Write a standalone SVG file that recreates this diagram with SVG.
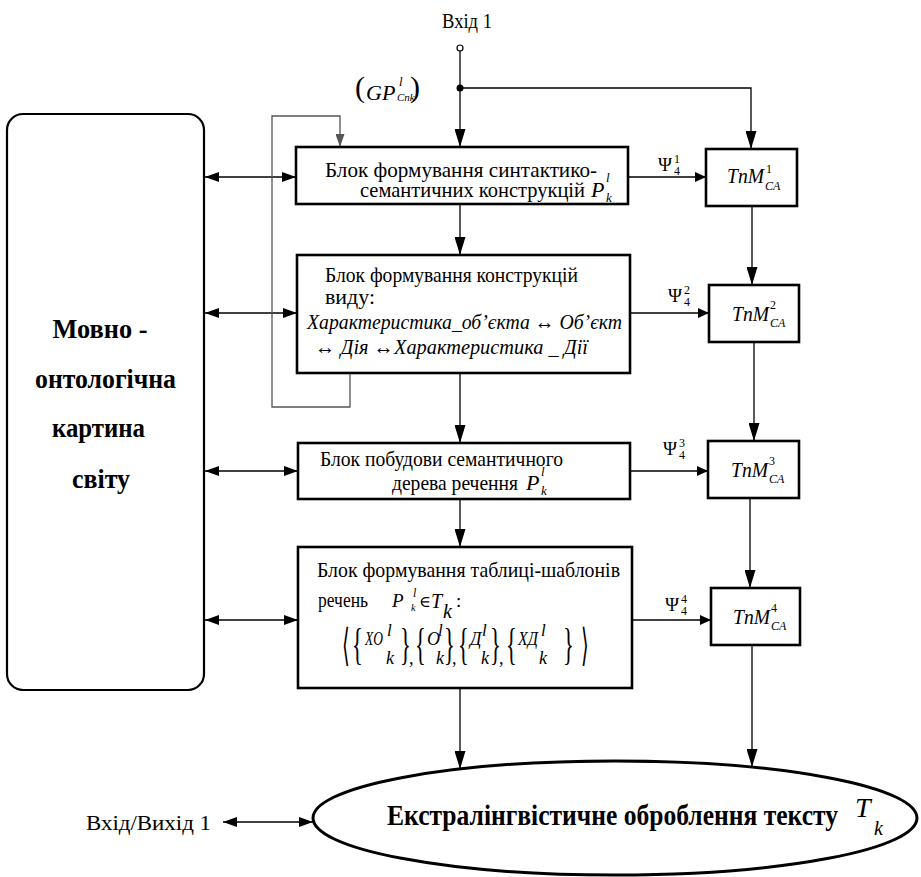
<svg xmlns="http://www.w3.org/2000/svg" width="921" height="877" viewBox="0 0 921 877">
<defs>
<style>
text{font-family:'Liberation Serif','DejaVu Serif','Times New Roman',serif;fill:#000}
.i{font-style:italic}
.b{font-weight:bold}
.s10{font-size:10px}.s11{font-size:11px}.s12{font-size:12px}.s13{font-size:13px}.s16{font-size:16px}
.s17{font-size:17px}.s18{font-size:18px}.s19{font-size:19px}.s20{font-size:20px}.s21{font-size:21px}
.s22{font-size:22px}.s27{font-size:27px}.s28{font-size:28px}.s30{font-size:30px}.s45{font-size:45px}
.ang{font-family:'DejaVu Sans',sans-serif;font-size:44px}
.box{fill:#fff;stroke:#000;stroke-width:2.6}
.ln{fill:none;stroke:#000;stroke-width:1.3}
.fb{fill:none;stroke:#555;stroke-width:1.3}
</style>
<marker id="av" markerUnits="userSpaceOnUse" markerWidth="18" markerHeight="11" viewBox="0 0 18 11" refX="18" refY="5.5" orient="auto"><path d="M0,0 L18,5.5 L0,11 z" fill="#000"/></marker>
<marker id="ad" markerUnits="userSpaceOnUse" markerWidth="14" markerHeight="10" viewBox="0 0 14 10" refX="14" refY="5" orient="auto-start-reverse"><path d="M0,0 L14,5 L0,10 z" fill="#000"/></marker>
<marker id="ap" markerUnits="userSpaceOnUse" markerWidth="11" markerHeight="10" viewBox="0 0 11 10" refX="11" refY="5" orient="auto"><path d="M0,0 L11,5 L0,10 z" fill="#000"/></marker>
<marker id="ag" markerUnits="userSpaceOnUse" markerWidth="13" markerHeight="9" viewBox="0 0 13 9" refX="13" refY="4.5" orient="auto"><path d="M0,0 L13,4.5 L0,9 z" fill="#555"/></marker>
</defs>
<rect width="921" height="877" fill="#fff"/>

<g id="connectors">
<path class="ln" d="M460,51 V147" marker-end="url(#av)"/>
<path class="ln" d="M460,88 H751 V149" marker-end="url(#av)"/>
<path class="ln" d="M460,204 V255" marker-end="url(#av)"/>
<path class="ln" d="M460,373 V443" marker-end="url(#av)"/>
<path class="ln" d="M460,499 V547" marker-end="url(#av)"/>
<path class="ln" d="M460,688 V769" marker-end="url(#av)"/>
<path class="ln" d="M752,206 V285" marker-end="url(#av)"/>
<path class="ln" d="M754,342 V441" marker-end="url(#av)"/>
<path class="ln" d="M750,498 V588" marker-end="url(#av)"/>
<path class="ln" d="M752,645 V767" marker-end="url(#av)"/>
<path class="ln" d="M628,177 H706" marker-end="url(#ap)"/>
<path class="ln" d="M630,313 H709" marker-end="url(#ap)"/>
<path class="ln" d="M630,471 H708" marker-end="url(#ap)"/>
<path class="ln" d="M632,620 H711" marker-end="url(#ap)"/>
<path class="ln" d="M205,177 H296" marker-start="url(#ad)" marker-end="url(#ad)"/>
<path class="ln" d="M205,313 H297" marker-start="url(#ad)" marker-end="url(#ad)"/>
<path class="ln" d="M205,471 H298" marker-start="url(#ad)" marker-end="url(#ad)"/>
<path class="ln" d="M205,620 H298" marker-start="url(#ad)" marker-end="url(#ad)"/>
<path class="ln" d="M223,822 H313" marker-start="url(#ad)" marker-end="url(#ad)"/>
<path class="fb" d="M350,373 V407 H272 V116 H340 V147" marker-end="url(#ag)"/>
<circle cx="460" cy="48" r="3" fill="#fff" stroke="#000" stroke-width="1.2"/>
<circle cx="460" cy="88" r="3.5" fill="#000"/>
</g>

<g id="input1">
<text class="s20" x="467" y="28" text-anchor="middle" textLength="50" lengthAdjust="spacingAndGlyphs">Вхід 1</text>
</g>

<g id="gp-label">
<text class="s30" x="355" y="97">(</text>
<text class="i s22" x="366" y="100">GP</text>
<text class="i s13" x="399" y="86">l</text>
<text class="i s11" x="397" y="101">Cnk</text>
<text class="s30" x="410" y="97">)</text>
</g>

<g id="ontology">
<rect x="7" y="114" width="197" height="576" rx="16" fill="#fff" stroke="#000" stroke-width="2.2"/>
<text class="b s27" x="100" y="338" text-anchor="middle" textLength="95" lengthAdjust="spacingAndGlyphs">Мовно -</text>
<text class="b s27" x="105.5" y="388" text-anchor="middle" textLength="141" lengthAdjust="spacingAndGlyphs">онтологічна</text>
<text class="b s27" x="98.5" y="437" text-anchor="middle" textLength="93" lengthAdjust="spacingAndGlyphs">картина</text>
<text class="b s27" x="101" y="488" text-anchor="middle" textLength="58" lengthAdjust="spacingAndGlyphs">світу</text>
</g>

<g id="block1">
<rect class="box" x="296" y="147" width="332" height="57"/>
<text class="s22" x="325" y="177" textLength="272" lengthAdjust="spacingAndGlyphs">Блок формування синтактико-</text>
<text class="s22" x="360" y="197" textLength="225" lengthAdjust="spacingAndGlyphs">семантичних конструкцій</text>
<text class="i s22" x="591" y="197">P</text>
<text class="i s13" x="606" y="182">l</text>
<text class="i s13" x="606" y="202">k</text>
</g>

<g id="block2">
<rect class="box" x="297" y="255" width="333" height="118"/>
<text class="s22" x="325" y="282" textLength="253" lengthAdjust="spacingAndGlyphs">Блок формування конструкцій</text>
<text class="s22" x="325" y="304" textLength="50" lengthAdjust="spacingAndGlyphs">виду:</text>
<text class="i s22" x="307" y="329" textLength="315" lengthAdjust="spacingAndGlyphs">Характеристика_об’єкта ↔ Об’єкт</text>
<text class="i s22" x="315" y="354" textLength="273" lengthAdjust="spacingAndGlyphs">↔ Дія ↔Характеристика _ Дії</text>
</g>

<g id="block3">
<rect class="box" x="298" y="443" width="332" height="56"/>
<text class="s22" x="320" y="466" textLength="243" lengthAdjust="spacingAndGlyphs">Блок побудови семантичного</text>
<text class="s22" x="392" y="490" textLength="126" lengthAdjust="spacingAndGlyphs">дерева речення</text>
<text class="i s22" x="526" y="490">P</text>
<text class="i s13" x="541" y="476">l</text>
<text class="i s13" x="541" y="495">k</text>
</g>

<g id="block4">
<rect class="box" x="298" y="547" width="334" height="141"/>
<text class="s22" x="317" y="577" textLength="303" lengthAdjust="spacingAndGlyphs">Блок формування таблиці-шаблонів</text>
<text class="s22" x="318" y="607" textLength="50" lengthAdjust="spacingAndGlyphs">речень</text>
<text class="i s19" x="392" y="607">P</text>
<text class="i s12" x="413" y="597">l</text>
<text class="i s10" x="411" y="611">k</text>
<text class="s16" x="419" y="607">∈</text>
<text class="i s20" x="431" y="608">T</text>
<text class="i s20" x="443" y="618">k</text>
<text class="s19" x="456" y="607">:</text>
<text class="ang" transform="translate(342,660) scale(0.45,1)">⟨</text>
<text class="s45" transform="translate(352,659) scale(0.5,1)">{</text>
<text class="i s18" x="365" y="645" textLength="18" lengthAdjust="spacingAndGlyphs">XO</text>
<text class="i s17" x="387" y="636">l</text>
<text class="i s18" x="386" y="664">k</text>
<text class="s45" transform="translate(400,659) scale(0.5,1)">}</text>
<text class="s18" x="409" y="664">,</text>
<text class="s45" transform="translate(415,659) scale(0.5,1)">{</text>
<text class="i s18" x="427" y="645">O</text>
<text class="i s17" x="438" y="636">l</text>
<text class="i s18" x="436" y="664">k</text>
<text class="s45" transform="translate(444,659) scale(0.5,1)">}</text>
<text class="s18" x="452" y="664">,</text>
<text class="s45" transform="translate(458,659) scale(0.5,1)">{</text>
<text class="i s18" x="470" y="645">Д</text>
<text class="i s17" x="482" y="636">l</text>
<text class="i s18" x="481" y="664">k</text>
<text class="s45" transform="translate(490,659) scale(0.5,1)">}</text>
<text class="s18" x="499" y="664">,</text>
<text class="s45" transform="translate(506,659) scale(0.5,1)">{</text>
<text class="i s18" x="518" y="645" textLength="20" lengthAdjust="spacingAndGlyphs">ХД</text>
<text class="i s17" x="541" y="636">l</text>
<text class="i s18" x="539" y="664">k</text>
<text class="s45" transform="translate(563,659) scale(0.5,1)">}</text>
<text class="ang" transform="translate(581,660) scale(0.45,1)">⟩</text>
</g>

<g id="psi-labels">
<text class="s19" x="658" y="171">Ψ</text><text class="s12" x="674" y="163">1</text><text class="s12" x="674" y="175">4</text>
<text class="s19" x="668" y="302">Ψ</text><text class="s12" x="684" y="294">2</text><text class="s12" x="684" y="306">4</text>
<text class="s19" x="663" y="455">Ψ</text><text class="s12" x="679" y="447">3</text><text class="s12" x="679" y="459">4</text>
<text class="s19" x="665" y="611">Ψ</text><text class="s12" x="681" y="603">4</text><text class="s12" x="681" y="615">4</text>
</g>

<g id="tnm1">
<rect class="box" x="706" y="149" width="91" height="57"/>
<text class="i s21" x="727" y="183" textLength="37" lengthAdjust="spacingAndGlyphs">TnM</text>
<text class="s12" x="766" y="173">1</text>
<text class="i s12" x="765" y="190">CA</text>
</g>
<g id="tnm2">
<rect class="box" x="709" y="285" width="90" height="57"/>
<text class="i s21" x="732" y="321" textLength="37" lengthAdjust="spacingAndGlyphs">TnM</text>
<text class="s12" x="770" y="309">2</text>
<text class="i s12" x="770" y="327">CA</text>
</g>
<g id="tnm3">
<rect class="box" x="708" y="441" width="91" height="57"/>
<text class="i s21" x="731" y="477" textLength="37" lengthAdjust="spacingAndGlyphs">TnM</text>
<text class="s12" x="769" y="465">3</text>
<text class="i s12" x="769" y="483">CA</text>
</g>
<g id="tnm4">
<rect class="box" x="711" y="588" width="89" height="57"/>
<text class="i s21" x="733" y="624" textLength="37" lengthAdjust="spacingAndGlyphs">TnM</text>
<text class="s12" x="771" y="612">4</text>
<text class="i s12" x="771" y="630">CA</text>
</g>

<g id="io-label">
<text class="s22" x="86" y="830" textLength="125" lengthAdjust="spacingAndGlyphs">Вхід/Вихід 1</text>
</g>

<g id="extraling">
<ellipse cx="615" cy="818" rx="302" ry="57" fill="#fff" stroke="#000" stroke-width="3"/>
<text class="b s30" x="387" y="825" textLength="451" lengthAdjust="spacingAndGlyphs">Екстралінгвістичне оброблення тексту</text>
<text class="i s28" x="855" y="817">T</text>
<text class="i s20" x="874" y="835">k</text>
</g>
</svg>
